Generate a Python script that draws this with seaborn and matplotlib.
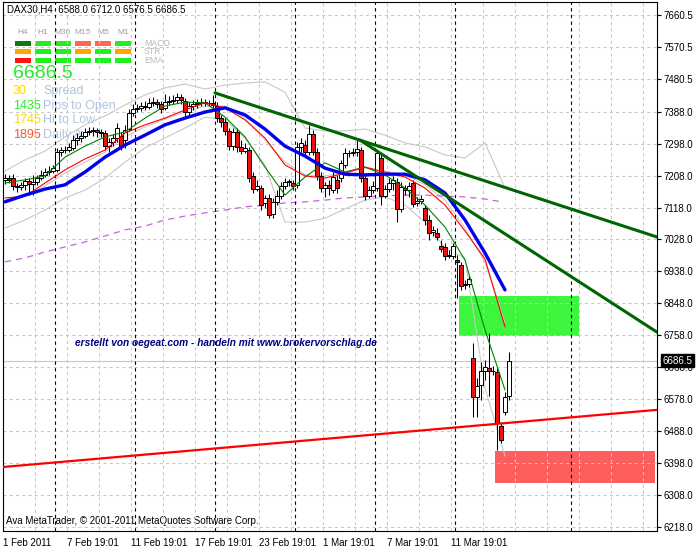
"""
DAX30 H4 chart (MetaTrader look) rebuilt with seaborn / matplotlib.
Candles, moving averages, bands, trend lines and zones are read off the
reference screenshot.  Output: out.png (696x547).
"""

import matplotlib
matplotlib.use("Agg")
import matplotlib.pyplot as plt
import matplotlib.transforms as mtransforms
from matplotlib.patches import Rectangle
import numpy as np
import seaborn as sns

W, H = 696, 547

# ---------------------------------------------------------------- candles
opens = [7196, 7201, 7201, 7179, 7176, 7182, 7193, 7184, 7190, 7201,
         7210, 7218, 7221, 7224, 7275, 7280, 7280, 7286, 7308, 7314,
         7320, 7331, 7334, 7337, 7331, 7328, 7291, 7303, 7314, 7320,
         7308, 7339, 7384, 7396, 7399, 7404, 7401, 7413, 7415, 7410,
         7399, 7415, 7418, 7421, 7430, 7418, 7387, 7404, 7410, 7413,
         7415, 7413, 7413, 7404, 7370, 7359, 7334, 7291, 7331, 7289,
         7277, 7280, 7207, 7170, 7173, 7131, 7145, 7100, 7134, 7151,
         7179, 7190, 7187, 7182, 7289, 7294, 7275, 7325, 7275, 7207,
         7173, 7182, 7167, 7196, 7201, 7238, 7272, 7272, 7275, 7280,
         7201, 7151, 7167, 7173, 7258, 7151, 7170, 7187, 7190, 7114,
         7173, 7167, 7187, 7131, 7136, 7117, 7083, 7049, 7046, 7010,
         7007, 6981, 6981, 6970, 6956, 6900, 6903, 6694, 6584, 6618,
         6658, 6666, 6658, 6655, 6503, 6542, 6588.0]
highs = [7213, 7210, 7213, 7187, 7190, 7201, 7201, 7210, 7210, 7224,
         7229, 7235, 7238, 7286, 7289, 7291, 7300, 7322, 7328, 7334,
         7342, 7345, 7345, 7342, 7339, 7337, 7314, 7325, 7356, 7331,
         7351, 7396, 7410, 7410, 7415, 7418, 7427, 7430, 7424, 7418,
         7438, 7432, 7435, 7441, 7438, 7427, 7415, 7421, 7424, 7427,
         7424, 7421, 7435, 7415, 7379, 7370, 7342, 7342, 7342, 7308,
         7300, 7289, 7218, 7196, 7182, 7153, 7156, 7145, 7167, 7190,
         7201, 7198, 7196, 7303, 7314, 7308, 7351, 7337, 7286, 7218,
         7190, 7196, 7218, 7210, 7252, 7286, 7280, 7286, 7308, 7289,
         7210, 7179, 7193, 7280, 7266, 7182, 7201, 7207, 7201, 7190,
         7182, 7190, 7196, 7148, 7153, 7125, 7097, 7066, 7060, 7027,
         7018, 6998, 7018, 6984, 6965, 6914, 6925, 6737, 6638, 6683,
         6689, 6765, 6672, 6666, 6514, 6598, 6712.0]
lows = [7184, 7187, 7167, 7162, 7167, 7167, 7153, 7153, 7182, 7196,
        7204, 7210, 7215, 7218, 7263, 7272, 7275, 7280, 7294, 7303,
        7314, 7322, 7320, 7317, 7317, 7280, 7275, 7291, 7303, 7280,
        7286, 7334, 7376, 7387, 7390, 7393, 7396, 7404, 7399, 7384,
        7393, 7407, 7410, 7413, 7410, 7370, 7373, 7393, 7399, 7404,
        7404, 7404, 7399, 7359, 7345, 7322, 7280, 7280, 7275, 7269,
        7272, 7190, 7159, 7165, 7111, 7117, 7089, 7089, 7125, 7142,
        7170, 7179, 7167, 7173, 7275, 7266, 7266, 7266, 7196, 7162,
        7148, 7153, 7159, 7159, 7190, 7229, 7260, 7263, 7263, 7190,
        7139, 7145, 7159, 7165, 7125, 7145, 7162, 7167, 7077, 7105,
        7153, 7148, 7120, 7122, 7128, 7069, 7027, 7038, 7027, 6993,
        6970, 6976, 6973, 6863, 6886, 6888, 6894, 6528, 6528, 6576,
        6632, 6587, 6646, 6435, 6455, 6534, 6576.5]
closes = [7201, 7196, 7179, 7176, 7182, 7193, 7184, 7190, 7201, 7210,
          7218, 7221, 7229, 7275, 7280, 7281, 7289, 7308, 7314, 7320,
          7331, 7334, 7337, 7331, 7328, 7291, 7303, 7314, 7342, 7289,
          7337, 7384, 7396, 7399, 7404, 7401, 7413, 7415, 7410, 7396,
          7415, 7418, 7421, 7430, 7421, 7387, 7404, 7410, 7413, 7415,
          7413, 7412, 7407, 7370, 7359, 7334, 7291, 7331, 7289, 7277,
          7286, 7201, 7170, 7179, 7125, 7145, 7097, 7134, 7151, 7179,
          7190, 7191, 7179, 7289, 7300, 7275, 7325, 7275, 7207, 7173,
          7182, 7173, 7204, 7173, 7244, 7272, 7271, 7275, 7283, 7201,
          7151, 7167, 7179, 7272, 7151, 7170, 7187, 7196, 7114, 7176,
          7167, 7179, 7128, 7136, 7142, 7083, 7046, 7055, 7035, 7001,
          6981, 6984, 7010, 6965, 6897, 6903, 6917, 6584, 6615, 6658,
          6669, 6658, 6657, 6511, 6463, 6584, 6686.5]

# ------------------------------------------------- indicators (every 5 bars)
ma_idx = list(range(0, 126, 5))
ma_green = [7187, 7196, 7207, 7260, 7291, 7317, 7331, 7370, 7404, 7415,
            7413, 7373, 7317, 7232, 7153, 7204, 7244, 7218, 7232, 7210,
            7173, 7125, 7063, 6970, 6773, 6604]
ma_red = [7145, 7150, 7187, 7224, 7255, 7280, 7328, 7351, 7370, 7393,
          7413, 7399, 7365, 7314, 7238, 7207, 7201, 7215, 7232, 7218,
          7204, 7173, 7125, 7052, 6973, 6782]
ma_blue = [7134, 7153, 7170, 7182, 7218, 7260, 7294, 7322, 7351, 7370,
           7387, 7399, 7379, 7339, 7291, 7263, 7229, 7212, 7210, 7212,
           7212, 7196, 7159, 7083, 6990, 6886]
band_mid = [7139, 7150, 7179, 7215, 7246, 7274, 7317, 7345, 7367, 7387,
            7404, 7404, 7370, 7308, 7246, 7210, 7207, 7218, 7229, 7221,
            7210, 7182, 7139, 7060, 6964, 6794]
band_upper = [7221, 7252, 7277, 7317, 7351, 7376, 7407, 7435, 7455, 7466,
              7452, 7463, 7469, 7472, 7443, 7342, 7334, 7334, 7339, 7322,
              7300, 7289, 7266, 7258, 7300, 7173]
band_lower = [7060, 7083, 7111, 7145, 7167, 7201, 7246, 7286, 7314, 7342,
              7373, 7365, 7314, 7238, 7077, 7077, 7088, 7114, 7139, 7148,
              7125, 7077, 7004, 6976, 6610, 6418]
ma_long = [6965, 6976, 6993, 7007, 7021, 7038, 7055, 7066, 7083, 7094,
           7103, 7111, 7120, 7125, 7131, 7134, 7139, 7145, 7148, 7151,
           7153, 7153, 7150, 7148, 7142, 7134]

# ------------------------------------------------------ drawn objects
trend_a_x, trend_a_y = [52.5, 163], [7441, 7035]
trend_b_x, trend_b_y = [88.75, 163], [7308, 6767]
trend_red_x, trend_red_y = [-0.5, 163], [6387, 6548]
zone_buy = (113.5, 143.5, 6756, 6869)      # bar from, bar to, low, high
zone_sell = (122.5, 162.5, 6342, 6432)
separators = [12.5, 32.5, 52.5, 72.5, 92.5, 112.5, 141.5]
last_price = 6686.5

# ----------------------------------------------------------------- axes
yticks = [7660.5, 7570.5, 7480.5, 7388.0, 7298.0, 7208.0, 7118.0, 7028.0,
          6938.0, 6848.0, 6758.0, 6668.0, 6578.0, 6488.0, 6398.0, 6308.0,
          6218.0]
xtick_pos = [-0.5, 15.5, 31.5, 47.5, 63.5, 79.5, 95.5, 111.5]
xtick_labels = ["1 Feb 2011", "7 Feb 19:01", "11 Feb 19:01", "17 Feb 19:01",
                "23 Feb 19:01", "1 Mar 19:01", "7 Mar 19:01", "11 Mar 19:01"]

# ------------------------------------------------------- info panel
tf_labels = ["H4", "H1", "M30", "M15", "M5", "M1"]
tf_rows = ["MACD", "STR", "EMA"]
LIME, SALMON, ORANGE = "#22ee22", "#ff6655", "#ffa500"
tf_colors = [
    ["#117711", LIME, LIME, SALMON, SALMON, LIME],
    [ORANGE, LIME, LIME, ORANGE, LIME, ORANGE],
    ["#ff1111", LIME, LIME, LIME, LIME, LIME],
]
info_values = ["30", "1435", "1745", "1895"]
info_labels = ["Spread", "Pips to Open", "Hi to Low", "Daily Av"]
info_colors = ["#ffd700", "#22ee22", "#ffd700", "#ff5522"]


def fx(x):
    return x / W


def fy(y):
    return 1 - y / H


def draw_panel(fig):
    """Top-left overlay texts (screen-pixel placement, like MT4 labels)."""
    fig.text(fx(7), fy(10), "DAX30,H4  6588.0 6712.0 6576.5 6686.5",
             fontsize=7, va="center", ha="left", color="black", zorder=-1)
    for c, lab in enumerate(tf_labels):
        cx = 23 + 20 * c
        fig.text(fx(cx), fy(33), lab, fontsize=6, color="#a0a0a0",
                 ha="center", va="center", zorder=-1)
        for r in range(len(tf_rows)):
            y0 = 41 + 8.3 * r
            fig.patches.append(Rectangle((fx(cx - 8), fy(y0 + 5)), 16 / W, 5 / H,
                                         transform=fig.transFigure,
                                         facecolor=tf_colors[r][c],
                                         edgecolor="none", zorder=-1))
    for r, name in enumerate(tf_rows):
        fig.text(fx(144), fy(43.5 + 8.3 * r), name, fontsize=6.3,
                 color="#b8b8b8", ha="left", va="center", zorder=-1)
    fig.text(fx(13), fy(74), "6686.5", fontsize=14, color=LIME,
             ha="left", va="center", zorder=-1)
    for k in range(len(info_values)):
        y = 91 + 14.7 * k
        fig.text(fx(13), fy(y), info_values[k], fontsize=9,
                 color=info_colors[k], ha="left", va="center", zorder=-1)
        fig.text(fx(43), fy(y), info_labels[k], fontsize=9,
                 color="#b0c4de", ha="left", va="center", zorder=-1)
    fig.text(fx(75), fy(343),
             "erstellt von oegeat.com - handeln mit www.brokervorschlag.de",
             fontsize=7.3, color="#000080", fontweight="bold",
             fontstyle="italic", ha="left", va="center", zorder=-1)
    fig.text(fx(6), fy(521),
             "Ava MetaTrader, \u00a9 2001-2011 MetaQuotes Software Corp.",
             fontsize=7, color="black", ha="left", va="center", zorder=-1)


def main():
    sns.set_theme(style="white")
    plt.rcParams["font.family"] = ["Liberation Sans", "DejaVu Sans"]

    fig = plt.figure(figsize=(W / 100, H / 100), dpi=100)
    fig.patch.set_facecolor("white")
    ax = fig.add_axes([3 / W, 16 / H, 654 / W, 529 / H])
    ax.patch.set_visible(False)
    ax.set_xlim(-0.5, 163)
    ax.set_ylim(6206.7, 7697.1)

    # grid
    grid_kw = dict(color="#c8c8c8", lw=0.75, ls=(0, (3, 3)), zorder=1.5)
    for yv in yticks:
        ax.axhline(yv, **grid_kw)
    for xv in np.arange(7.5, 163, 8):
        ax.axvline(xv, **grid_kw)

    # zones
    for (x0, x1, y0, y1), col in [(zone_buy, "#3df53d"), (zone_sell, "#ff5e5e")]:
        ax.add_patch(Rectangle((x0, y0), x1 - x0, y1 - y0, facecolor=col,
                               edgecolor="none", zorder=1))

    # week separators
    for xv in separators:
        ax.axvline(xv, color="black", lw=0.8, ls=(0, (3, 3)), zorder=2.5)

    ax.axhline(last_price, color="#c8c8c8", lw=0.8, zorder=1.6)

    # bands and long MA
    for series in (band_upper, band_mid, band_lower):
        sns.lineplot(x=ma_idx, y=series, ax=ax, color="#c8c8c8", linewidth=0.8,
                     estimator=None, sort=False, legend=False, zorder=2)
    sns.lineplot(x=ma_idx[:-1] + [124.3], y=ma_long, ax=ax, color="#c264e0",
                 linewidth=0.9, estimator=None, sort=False,
                 legend=False, zorder=2, linestyle=(0, (5, 4)))

    # candles
    o, h, l, c = map(np.asarray, (opens, highs, lows, closes))
    idx = np.arange(len(c))
    ax.vlines(idx, l, h, color="black", lw=0.75, zorder=3)
    body_col = np.where(c >= o, "white", "#ee1111")
    ax.bar(idx, np.maximum(np.abs(c - o), 1.5), bottom=np.minimum(o, c),
           width=0.8, color=body_col, edgecolor="black", linewidth=0.7,
           zorder=3.5)

    # moving averages
    sns.lineplot(x=ma_idx, y=ma_green, ax=ax, color="#008000", linewidth=0.8,
                 estimator=None, sort=False, legend=False, zorder=4)
    sns.lineplot(x=ma_idx, y=ma_red, ax=ax, color="#ff0000", linewidth=0.8,
                 estimator=None, sort=False, legend=False, zorder=4)
    sns.lineplot(x=ma_idx, y=ma_blue, ax=ax, color="#0000ee", linewidth=2.4,
                 estimator=None, sort=False, legend=False, zorder=4.2)

    # trend lines
    for tx, ty, col, lw in [(trend_a_x, trend_a_y, "#006400", 2.2),
                            (trend_b_x, trend_b_y, "#006400", 2.2),
                            (trend_red_x, trend_red_y, "#ff0000", 1.6)]:
        sns.lineplot(x=tx, y=ty, ax=ax, color=col, linewidth=lw,
                     estimator=None, sort=False, legend=False, zorder=5)

    # axes styling
    for sp in ax.spines.values():
        sp.set_visible(True)
        sp.set_color("black")
        sp.set_linewidth(0.8)
    ax.yaxis.tick_right()
    ax.set_yticks(yticks)
    ax.yaxis.set_major_formatter("{x:.1f}")
    ax.set_xticks(xtick_pos, xtick_labels)
    for lab in ax.get_xticklabels():
        lab.set_ha("left")
    ax.tick_params(axis="y", direction="out", length=3, width=0.8,
                   labelsize=7, pad=2, colors="black")
    ax.tick_params(axis="x", direction="out", length=4, width=0.8,
                   labelsize=7, pad=1, colors="black")
    ax.set_xlabel("")
    ax.set_ylabel("")

    # last price tag on the price scale (covers part of the 6668.0 label,
    # as in the original terminal)
    trans = mtransforms.blended_transform_factory(ax.transAxes, ax.transData)
    ax.text(1.008, last_price, f"{last_price:.1f}", transform=trans,
            ha="left", va="center", fontsize=7, color="white", zorder=6,
            clip_on=False,
            bbox=dict(boxstyle="square,pad=0.15", fc="black", ec="black"))

    draw_panel(fig)
    fig.savefig("out.png", dpi=100, facecolor="white")
    plt.close(fig)


if __name__ == "__main__":
    main()
